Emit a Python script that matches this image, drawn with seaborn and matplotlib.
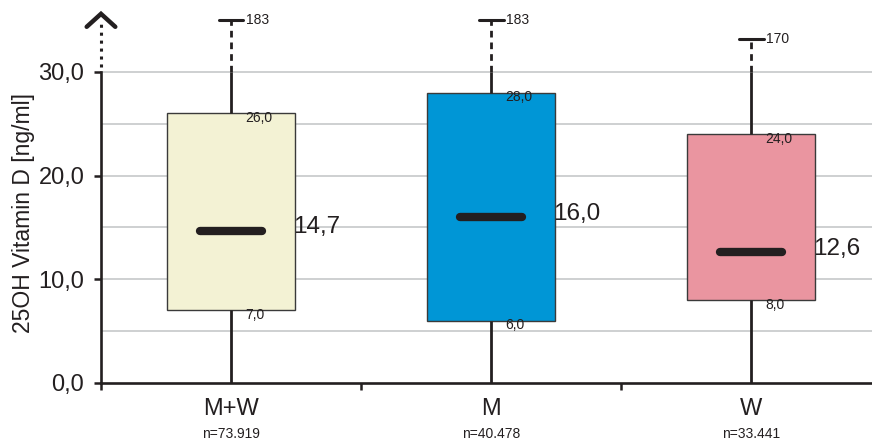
import matplotlib
matplotlib.use("Agg")
import matplotlib.pyplot as plt
import numpy as np
import pandas as pd
import seaborn as sns

# Summary statistics per group (25OH vitamin D, ng/ml)
groups = ["M+W", "M", "W"]
n_labels = ["n=73.919", "n=40.478", "n=33.441"]
minima = [0.0, 0.0, 0.0]
q1 = [7.0, 6.0, 8.0]
median = [14.7, 16.0, 12.6]
q3 = [26.0, 28.0, 24.0]
maxima = [183, 183, 170]
box_colors = ["#F3F2D4", "#0096D6", "#EA95A0"]

# y axis is broken above 30: maxima are drawn on a compressed stretch
axis_break = 30.0
cap_display = [35.0, 35.0, 33.2]

ink = "#231F20"
grid_col = "#C6C8CA"

sns.set_theme(style="white")
plt.rcParams["font.family"] = ["Liberation Sans", "DejaVu Sans"]

fig = plt.figure(figsize=(8.72, 4.43), dpi=100)
ax = fig.add_axes([101 / 872, 60 / 443, 771 / 872, 373.3 / 443])

# five-number summaries, with the upper whisker cut at the axis break
rows = []
for g, lo, a, m, b in zip(groups, minima, q1, median, q3):
    for v in (lo, a, m, b, axis_break):
        rows.append({"group": g, "value": v})
df = pd.DataFrame(rows)

ymax = 36.0
xmax = 2.465

for yv in np.arange(5, 31, 5):
    ax.hlines(yv, -0.5, xmax, color=grid_col, lw=1.2, zorder=0)

sns.boxplot(
    data=df, x="group", y="value", hue="group", order=groups,
    palette=box_colors, saturation=1, width=0.49, whis=(0, 100),
    showcaps=False, showfliers=False, linecolor="#3A3A3A", linewidth=1.0,
    legend=False, medianprops={"visible": False},
    whiskerprops={"color": ink, "linewidth": 2.0},
    ax=ax, zorder=2,
)

for i in range(len(groups)):
    # dashed part of the whisker above the break, with cap and max value
    ax.plot([i, i], [axis_break, cap_display[i]], color=ink, lw=2.0,
            ls=(0, (2.4, 1.8)), solid_capstyle="butt", zorder=3)
    ax.plot([i - 0.048, i + 0.048], [cap_display[i]] * 2, color=ink,
            lw=2.2, zorder=3)
    ax.text(i + 0.058, cap_display[i], str(maxima[i]), fontsize=10,
            color=ink, ha="left", va="center")
    # median bar
    ax.plot([i - 0.12, i + 0.12], [median[i]] * 2, color=ink, lw=6,
            solid_capstyle="round", zorder=4)
    ax.text(i + 0.238, median[i] + 0.3, f"{median[i]:.1f}".replace(".", ","),
            fontsize=17.5, color=ink, ha="left", va="center")
    # quartile labels
    ax.text(i + 0.055, q3[i] - 0.45, f"{q3[i]:.1f}".replace(".", ","),
            fontsize=10, color=ink, ha="left", va="center", zorder=5)
    ax.text(i + 0.055, q1[i] - 0.45, f"{q1[i]:.1f}".replace(".", ","),
            fontsize=10, color=ink, ha="left", va="center", zorder=5)
    ax.annotate(n_labels[i], xy=(i, 0), xycoords=("data", "axes fraction"),
                xytext=(0, -36.5), textcoords="offset points",
                ha="center", va="center", fontsize=10, color=ink)

ax.set_xlim(-0.5, xmax)
ax.set_ylim(0, ymax)

for s in ("top", "right"):
    ax.spines[s].set_visible(False)
for s in ("left", "bottom"):
    ax.spines[s].set_color(ink)
    ax.spines[s].set_linewidth(1.9)
ax.spines["left"].set_bounds(0, axis_break)

# dotted continuation of the y axis and arrow head
ax.plot([-0.5, -0.5], [axis_break + 0.5, 34.7], color=ink, lw=2.2,
        ls=(0, (1, 1.6)), clip_on=False, zorder=3)
ax.plot([-0.555, -0.5, -0.445], [34.35, 35.6, 34.35], color=ink, lw=3.2,
        solid_joinstyle="miter", clip_on=False, zorder=3)

yt = [0, 10, 20, 30]
ax.set_yticks(yt)
ax.set_yticklabels([f"{v:.1f}".replace(".", ",") for v in yt])
ax.tick_params(axis="y", direction="out", length=5, width=1.8, color=ink,
               labelsize=17, labelcolor=ink, pad=7, left=True)

ax.set_xticks(range(len(groups)))
ax.set_xticklabels(groups)
ax.set_xticks([-0.5, 0.5, 1.5], minor=True)
ax.tick_params(axis="x", which="major", length=0, labelsize=17,
               labelcolor=ink, pad=11)
ax.tick_params(axis="x", which="minor", direction="out", length=5,
               width=1.8, color=ink, bottom=True)

ax.set_xlabel("")
ax.set_ylabel("25OH Vitamin D [ng/ml]", fontsize=16.5, color=ink)
ax.yaxis.set_label_coords(-0.086, 0.455)

fig.savefig("out.png", dpi=100)
